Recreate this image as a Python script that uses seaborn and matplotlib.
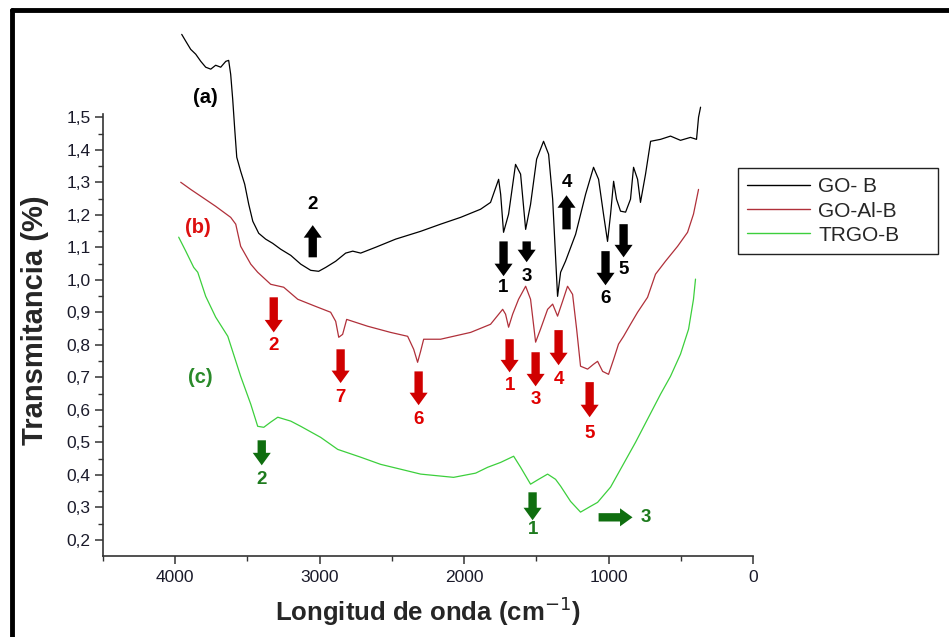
import numpy as np
import pandas as pd
import matplotlib
matplotlib.use("Agg")
import matplotlib.pyplot as plt
from matplotlib.lines import Line2D
from matplotlib.ticker import MultipleLocator, FixedLocator, FuncFormatter
import seaborn as sns

# Spectra (wavenumber cm-1, transmittance)
go_b_x = [3955, 3927, 3893, 3858, 3823, 3789, 3754, 3720, 3685, 3650, 3630, 3616, 3602, 3588,
          3574, 3547, 3519, 3491, 3463, 3422, 3374, 3325, 3270, 3200, 3131, 3062, 3007, 2958,
          2889, 2820, 2771, 2716, 2612, 2474, 2301, 2163, 2024, 1886, 1817, 1761, 1747, 1727,
          1692, 1644, 1609, 1574, 1540, 1498, 1450, 1415, 1387, 1353, 1332, 1298, 1228, 1159,
          1104, 1069, 1035, 1007, 986, 965, 945, 917, 882, 848, 827, 799, 779, 744, 709, 640,
          571, 502, 433, 391, 377, 363]
go_b_y = [1.755, 1.734, 1.709, 1.694, 1.672, 1.654, 1.648, 1.660, 1.654, 1.672, 1.675, 1.632, 1.555, 1.463,
          1.377, 1.334, 1.294, 1.232, 1.180, 1.143, 1.125, 1.112, 1.094, 1.075, 1.048, 1.029, 1.026, 1.038,
          1.057, 1.082, 1.088, 1.082, 1.100, 1.125, 1.149, 1.171, 1.192, 1.217, 1.238, 1.309, 1.263, 1.146,
          1.202, 1.355, 1.325, 1.155, 1.232, 1.371, 1.426, 1.386, 1.248, 0.949, 1.023, 1.057, 1.140, 1.263,
          1.346, 1.309, 1.202, 1.118, 1.202, 1.303, 1.248, 1.211, 1.208, 1.248, 1.346, 1.309, 1.238, 1.325,
          1.426, 1.432, 1.442, 1.429, 1.438, 1.432, 1.500, 1.531]

go_al_b_x = [3962, 3893, 3823, 3720, 3616, 3581, 3547, 3477, 3429, 3339, 3249, 3152, 3028, 2924,
             2889, 2868, 2841, 2813, 2668, 2509, 2391, 2349, 2322, 2301, 2280, 2163, 1955, 1817,
             1733, 1713, 1692, 1664, 1623, 1574, 1540, 1505, 1471, 1422, 1387, 1353, 1318, 1284,
             1249, 1221, 1194, 1145, 1104, 1076, 1041, 1000, 965, 931, 896, 848, 799, 730, 675,
             606, 522, 453, 412, 377]
go_al_b_y = [1.300, 1.278, 1.257, 1.226, 1.192, 1.171, 1.103, 1.048, 1.023, 0.986, 0.977, 0.940, 0.918, 0.900,
             0.872, 0.823, 0.832, 0.878, 0.857, 0.838, 0.826, 0.786, 0.746, 0.780, 0.817, 0.817, 0.838, 0.863,
             0.909, 0.894, 0.854, 0.894, 0.940, 0.980, 0.940, 0.808, 0.848, 0.909, 0.925, 0.888, 0.934, 0.980,
             0.955, 0.848, 0.734, 0.725, 0.740, 0.749, 0.718, 0.709, 0.755, 0.802, 0.826, 0.863, 0.900, 0.946, 1.017,
             1.057, 1.103, 1.146, 1.202, 1.278]

trgo_b_x = [3976, 3927, 3872, 3844, 3789, 3720, 3636, 3547, 3477, 3429, 3387, 3339, 3290, 3200,
            3131, 2993, 2875, 2716, 2578, 2439, 2301, 2073, 1920, 1837, 1747, 1657, 1609, 1540,
            1484, 1422, 1367, 1332, 1263, 1194, 1124, 1076, 986, 917, 813, 730, 640, 571, 502,
            446, 412, 398]
trgo_b_y = [1.131, 1.088, 1.038, 1.023, 0.949, 0.885, 0.826, 0.703, 0.617, 0.549, 0.546, 0.562, 0.577, 0.565,
            0.549, 0.515, 0.478, 0.454, 0.432, 0.417, 0.402, 0.392, 0.405, 0.423, 0.438, 0.457, 0.423, 0.371,
            0.386, 0.402, 0.386, 0.365, 0.318, 0.285, 0.303, 0.315, 0.362, 0.417, 0.500, 0.571, 0.648, 0.703, 0.771,
            0.848, 0.940, 1.002]

series_names = ["GO- B", "GO-Al-B", "TRGO-B"]
series_colors = ["#000000", "#b0303a", "#3ccf3c"]

# Peak markers: (label, x, y_tail, y_tip, y_label)
black_marks = [("2", 3048, 1.069, 1.168, 1.232), ("1", 1727, 1.118, 1.011, 0.977),
               ("3", 1567, 1.118, 1.054, 1.011), ("4", 1291, 1.155, 1.260, 1.300),
               ("6", 1021, 1.088, 0.983, 0.943), ("5", 896, 1.171, 1.069, 1.032)]
red_marks = [("2", 3318, 0.946, 0.838, 0.798), ("7", 2855, 0.786, 0.682, 0.638),
             ("6", 2315, 0.718, 0.614, 0.571), ("1", 1685, 0.817, 0.715, 0.675),
             ("3", 1505, 0.777, 0.672, 0.632), ("4", 1346, 0.845, 0.737, 0.694),
             ("5", 1131, 0.685, 0.577, 0.528)]
green_marks = [("2", 3401, 0.506, 0.429, 0.386), ("1", 1526, 0.346, 0.260, 0.232)]

sns.set_style("white")
plt.rcParams["font.family"] = ["Liberation Sans", "DejaVu Sans"]

fig = plt.figure(figsize=(9.49, 6.37), dpi=100)
ax = fig.add_axes([103 / 949, 1 - 556 / 637, 650 / 949, 536 / 637])

for xs, ys, name, col in zip([go_b_x, go_al_b_x, trgo_b_x], [go_b_y, go_al_b_y, trgo_b_y],
                             series_names, series_colors):
    df = pd.DataFrame({"x": xs, "y": ys})
    sns.lineplot(data=df, x="x", y="y", ax=ax, color=col, lw=0.9, label=name,
                 estimator=None, sort=False, legend=False)

ax.set_xlim(4500, 0)
ax.set_ylim(0.15, 0.15 + 536 / 325)
ax.spines["top"].set_visible(False)
ax.spines["right"].set_visible(False)
ax.spines["left"].set_bounds(0.15, 1.51)
for s in ["left", "bottom"]:
    ax.spines[s].set_linewidth(1.2)
    ax.spines[s].set_color("#333333")

ax.set_yticks(np.round(np.arange(0.2, 1.51, 0.1), 1))
ax.yaxis.set_minor_locator(FixedLocator(np.round(np.arange(0.25, 1.5, 0.1), 2)))
ax.set_xticks([4000, 3000, 2000, 1000, 0])
ax.xaxis.set_minor_locator(MultipleLocator(500))
ax.yaxis.set_major_formatter(FuncFormatter(lambda v, p: f"{v:.1f}".replace(".", ",")))
ax.tick_params(which="major", direction="out", length=6, width=1.1, color="#333333",
               labelsize=12.5, labelcolor="#1a1a2a", left=True, bottom=True, pad=3)
ax.tick_params(which="minor", direction="out", length=3.5, width=1.0, color="#333333",
               left=True, bottom=True)
ax.tick_params(axis="x", which="major", pad=4)

ax.set_xlabel("Longitud de onda (cm$^{-1}$)", fontsize=18.5, fontweight="bold")
ax.set_ylabel("Transmitancia (%)", fontsize=21, fontweight="bold")
ax.xaxis.set_label_coords(0.5, -0.072)
ax.yaxis.set_label_coords(-0.083, 0.44)

arrow_kw = dict(arrowstyle="simple,head_width=1.3,head_length=0.9,tail_width=0.6",
                shrinkA=0, shrinkB=0, mutation_scale=10, lw=0)

for marks, acol, tcol in [(black_marks, "#000000", "#000000"),
                          (red_marks, "#d00000", "#e00000"),
                          (green_marks, "#0f6e0f", "#1e7b1e")]:
    for lab, xv, yt, yh, yl in marks:
        ax.annotate("", xy=(xv, yh), xytext=(xv, yt),
                    arrowprops=dict(color=acol, **arrow_kw))
        ax.text(xv, yl, lab, color=tcol, fontsize=13.5, fontweight="bold",
                ha="center", va="center")

# green 3 points to the right
ax.annotate("", xy=(834, 0.269), xytext=(1069, 0.269),
            arrowprops=dict(color="#0f6e0f", **arrow_kw))
ax.text(744, 0.269, "3", color="#1e7b1e", fontsize=13.5, fontweight="bold", ha="center", va="center")

ax.text(3789, 1.562, "(a)", color="#000000", fontsize=14.5, fontweight="bold", ha="center", va="center")
ax.text(3844, 1.162, "(b)", color="#dd1010", fontsize=14.5, fontweight="bold", ha="center", va="center")
ax.text(3823, 0.700, "(c)", color="#2a8a2a", fontsize=14.5, fontweight="bold", ha="center", va="center")

leg = fig.legend(loc="upper left", bbox_to_anchor=(738 / 949, 1 - 252 / 637, 200 / 949, 84 / 637),
                 bbox_transform=fig.transFigure, mode="expand", fontsize=15, frameon=True,
                 fancybox=False, edgecolor="#222222", framealpha=1, borderaxespad=0,
                 handlelength=3.0, labelspacing=0.25, borderpad=0.45, handletextpad=0.4)
leg.get_frame().set_linewidth(1.0)
for line in leg.get_lines():
    line.set_linewidth(1.0)

# border frame (top and left only)
fig.add_artist(Line2D([12 / 949, 1.0], [1 - 10 / 637, 1 - 10 / 637], color="black", lw=3.5,
                      transform=fig.transFigure))
fig.add_artist(Line2D([12 / 949, 12 / 949], [0, 1 - 10 / 637], color="black", lw=3.5,
                      transform=fig.transFigure))

fig.savefig("out.png", dpi=100)
